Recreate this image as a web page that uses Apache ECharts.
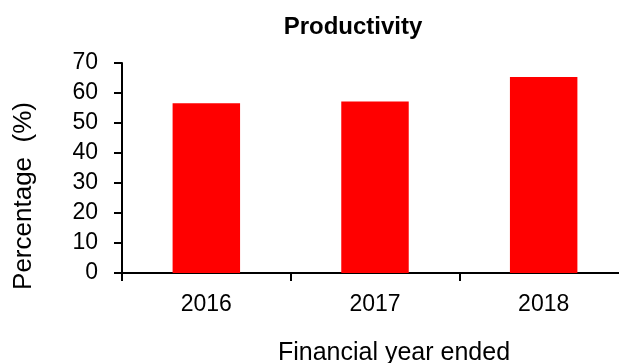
<!DOCTYPE html>
<html><head><meta charset="utf-8">
<script src="https://cdn.jsdelivr.net/npm/echarts@6/dist/echarts.min.js"></script>
<style>html,body{margin:0;padding:0;background:#fff}#c{width:619px;height:363px}</style>
</head><body><div id="c"></div>
<script>
var categories = ['2016', '2017', '2018'];
var productivity = [56.6, 57.2, 65.3];
var yTicks = [0, 10, 20, 30, 40, 50, 60, 70];

var chart = echarts.init(document.getElementById('c'));
var font = '"Liberation Sans", Arial, sans-serif';
chart.setOption({
  animation: false,
  title: {
    text: 'Productivity', left: 348, top: 10, textAlign: 'center',
    textStyle: { fontFamily: font, fontSize: 24, fontWeight: 'bold', color: '#000' }
  },
  graphic: [{
    type: 'text', x: 24, y: 196, rotation: Math.PI / 2,
    style: {
      text: 'Percentage  (%)', fontFamily: font, fontSize: 26, fill: '#000',
      textAlign: 'center', textVerticalAlign: 'middle'
    }
  }, {
    type: 'text', x: 394, y: 353,
    style: {
      text: 'Financial year ended', fontFamily: font, fontSize: 25, fill: '#000',
      textAlign: 'center', textVerticalAlign: 'middle'
    }
  }],
  grid: { left: 122, top: 63, bottom: 90, width: 506, containLabel: false, outerBoundsMode: 'none' },
  xAxis: {
    type: 'category', data: categories,
    axisLine: { lineStyle: { color: '#000', width: 2 } },
    axisTick: { show: true, alignWithLabel: false, length: 8, lineStyle: { color: '#000', width: 2 } },
    axisLabel: { fontFamily: font, fontSize: 23, color: '#000', margin: 20 }
  },
  yAxis: {
    type: 'value', min: yTicks[0], max: yTicks[yTicks.length - 1], interval: 10,
    axisLine: { show: true, lineStyle: { color: '#000', width: 2 } },
    axisTick: { show: true, length: 8, lineStyle: { color: '#000', width: 2 } },
    axisLabel: { fontFamily: font, fontSize: 23, color: '#000', margin: 24 },
    splitLine: { show: false }
  },
  series: [{
    type: 'bar', data: productivity, barWidth: '40%',
    itemStyle: { color: '#ff0000' }
  }]
});
</script></body></html>
